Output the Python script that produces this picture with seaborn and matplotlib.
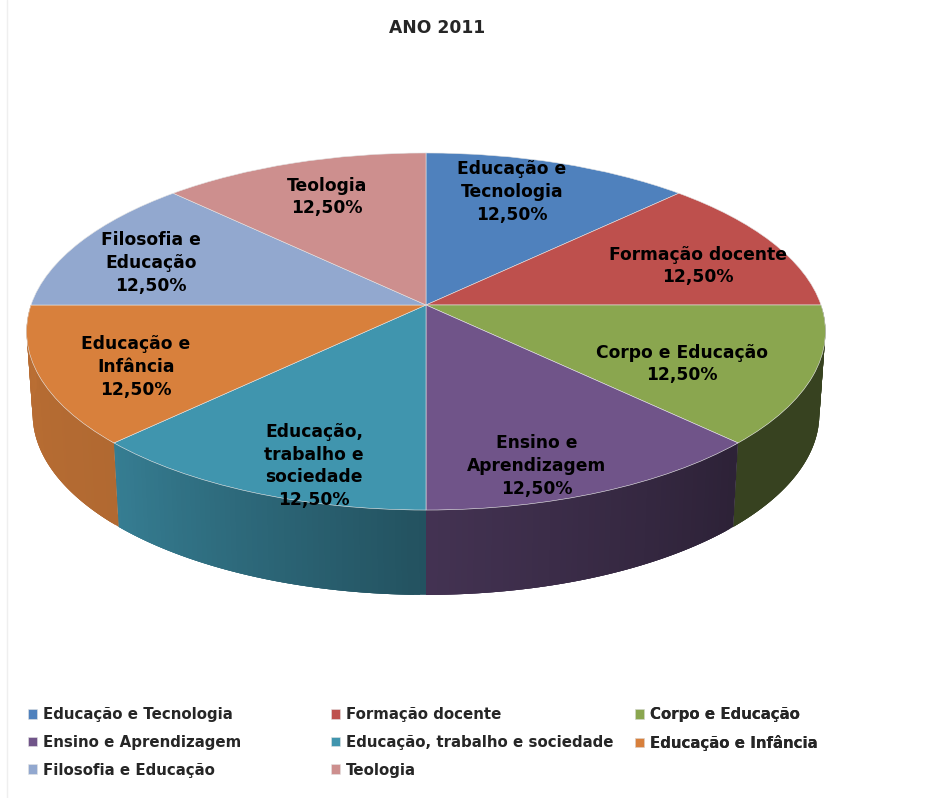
import numpy as np
import matplotlib
matplotlib.use("Agg")
import matplotlib.pyplot as plt
from matplotlib.collections import PolyCollection
from matplotlib.transforms import Transform
import seaborn as sns

title = "ANO 2011"
categories = ["Educação e Tecnologia", "Formação docente", "Corpo e Educação",
              "Ensino e Aprendizagem", "Educação, trabalho e sociedade",
              "Educação e Infância", "Filosofia e Educação", "Teologia"]
values = [12.5, 12.5, 12.5, 12.5, 12.5, 12.5, 12.5, 12.5]
slice_labels = ["Educação e\nTecnologia", "Formação docente", "Corpo e Educação",
                "Ensino e\nAprendizagem", "Educação,\ntrabalho e\nsociedade",
                "Educação e\nInfância", "Filosofia e\nEducação", "Teologia"]
colors = ["#4F81BD", "#BE504D", "#8AA64F", "#705489",
          "#4095AE", "#D8803C", "#92A8CF", "#CD8F8E"]
side_shade_start = [.6, .6, .40, .40, .55, .82, .8, .8]
side_shade_end = [.6, .6, .40, .60, .84, .86, .8, .8]
label_pos = [(512, 192), (698, 266), (682, 364), (537, 466),
             (314, 466), (136, 367), (151, 263), (327, 197)]
legend_cols = [[0, 3, 6], [1, 4, 7], [2, 5]]
legend_x = [28, 331, 635]

CX, CY, C = 426.0, 305.0, 53 / 357


class Persp(Transform):
    """Projects the unit circle of the pie on to the tilted disc, in pixels."""
    input_dims = output_dims = 2

    def __init__(self, a=395.0, b=174.6, y0=0.0):
        super().__init__()
        self.a, self.b, self.y0 = a, b, y0

    def transform_non_affine(self, xy):
        xy = np.asarray(xy, float)
        w = 1 + C * xy[:, 1]
        return np.column_stack([CX + self.a * xy[:, 0] / w,
                                CY + self.y0 - self.b * xy[:, 1] / w])


sns.set_theme(style="white")
plt.rcParams["font.family"] = ["DejaVu Sans"]
palette = sns.color_palette(colors)

fig = plt.figure(figsize=(9.46, 7.98), dpi=100, facecolor="white")
ax = fig.add_axes([0, 0, 1, 1])

# side wall, shaded strip by strip, from the same shares as the pie
top, bottom = Persp(), Persp(a=389.0, b=177.0, y0=82.0)
fracs = np.array(values) / np.sum(values)
edges = np.r_[0, np.cumsum(fracs)]
for i, col in enumerate(palette):
    t = np.linspace(edges[i], edges[i + 1], 61)
    ang = np.pi / 2 - 2 * np.pi * t
    circle = np.column_stack([np.cos(ang), np.sin(ang)])
    up, lo = top.transform(circle), bottom.transform(circle)
    shade = np.linspace(side_shade_start[i], side_shade_end[i], 60)
    quads, fc = [], []
    for k in range(60):
        # only the front half of the wall can be seen
        if circle[k, 1] > -1e-6 and circle[k + 1, 1] > -1e-6:
            continue
        # each strip runs on under the next one, so no seams show between them
        seg = np.arange(k, min(k + 3, 60) + 1)
        quads.append(np.vstack([up[seg], lo[seg][::-1]]))
        fc.append(tuple(np.array(col) * shade[k]))
    if quads:
        ax.add_collection(PolyCollection(quads, facecolors=fc, edgecolors="none",
                                         linewidths=0, zorder=1))

wedges, _ = ax.pie(values, colors=palette, startangle=90, counterclock=False,
                   wedgeprops=dict(edgecolor="#E4E4E4", linewidth=.4, zorder=2))
ax.set_aspect("auto")
ax.set_xlim(0, 946)
ax.set_ylim(798, 0)
ax.axis("off")
for w in wedges:
    w.set_transform(Persp() + ax.transData)

ax.plot([7, 7], [0, 798], color="#EFEFEF", lw=1, zorder=0)

for lab, v, (x, y) in zip(slice_labels, values, label_pos):
    ax.text(x, y, f"{lab}\n{v:.2f}%".replace(".", ","), ha="center", va="center",
            fontsize=12.3, fontweight="bold", color="black", linespacing=1.35, zorder=5)

ax.text(437, 28, title, ha="center", va="center", fontsize=12.3,
        fontweight="bold", color="#262626")

for col, x in zip(legend_cols, legend_x):
    leg = ax.legend([wedges[i] for i in col], [categories[i] for i in col],
                    loc="upper left", bbox_to_anchor=(x, 707),
                    bbox_transform=ax.transData, frameon=False, borderpad=0,
                    borderaxespad=0, handlelength=.62, handleheight=.62,
                    handletextpad=.36, labelspacing=.85,
                    prop=dict(weight="bold", size=10.8), labelcolor="#262626")
    ax.add_artist(leg)

fig.savefig("out.png", dpi=100, facecolor="white")
